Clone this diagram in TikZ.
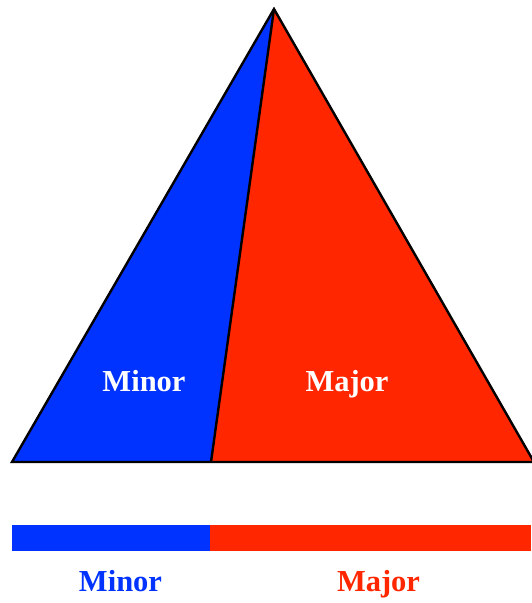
\documentclass[tikz,border=0pt]{standalone}
\usepackage{fontspec}
\setmainfont{Liberation Serif}
\definecolor{minorblue}{RGB}{0,51,255}
\definecolor{majorred}{RGB}{255,38,0}
\begin{document}
\begin{tikzpicture}[
		x=1pt, y=-1pt,
		edge/.style={draw=black, line width=2.4pt, line join=miter},
		lbl/.style={font=\fontsize{30.5}{36}\bfseries\selectfont, anchor=base, inner sep=0pt}
		]
		\useasboundingbox (0,0) rectangle (531,603);
		% --- triangle ---
		\coordinate (top) at (274,9);
		\coordinate (bl) at (12,462);
		\coordinate (bm) at (211,462);
		\coordinate (br) at (534,462);
		\fill[minorblue] (top) -- (bl) -- (bm) -- cycle;
		\fill[majorred] (top) -- (bm) -- (br) -- cycle;
		\draw[edge] (top) -- (bl) -- (br) -- cycle;
		\draw[edge] (top) -- (bm);
		\node[lbl, white] (tminor) at (144,391.5) {Minor};
		\node[lbl, white] (tmajor) at (347,391.5) {Major};
		% --- bar ---
		\fill[minorblue] (12,525) rectangle (210,551);
		\fill[majorred] (210,525) rectangle (531,551);
		\node[lbl, minorblue] (bminor) at (120.5,591.5) {Minor};
		\node[lbl, majorred] (bmajor) at (378.5,591.5) {Major};
\end{tikzpicture}
\end{document}
